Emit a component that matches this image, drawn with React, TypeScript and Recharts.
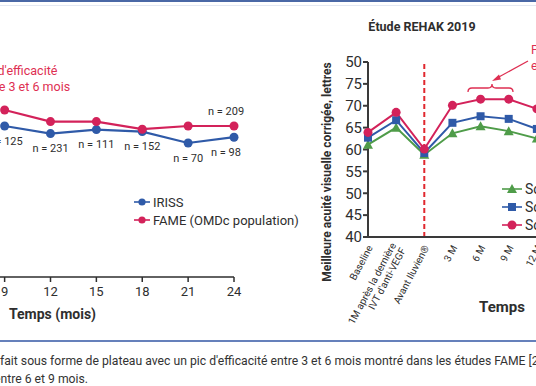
import { LabelList, Legend, Line, LineChart, ReferenceLine, XAxis, YAxis } from 'recharts';

const FONT = 'Roboto, "DejaVu Sans", sans-serif';
const RED = '#d3225a';
const BLUE = '#2f5aa8';
const GREEN = '#4f9c49';
const ANNOT = '#de2f52';
const INK = '#2e2e2e';

// left chart: IRISS vs FAME, months
const MONTHS = [9, 12, 15, 18, 21, 24];
const MONTH_TICKS = [9, 12, 15, 18, 21, 24];
const IRISS = [7.55, 7.17, 7.37, 7.27, 6.7, 6.99];
const FAME = [8.35, 7.77, 7.77, 7.39, 7.55, 7.55];
const IRISS_N = [125, 231, 111, 152, 70, 98];
const FAME_N = [null, null, null, null, null, 209];

// right chart: REHAK 2019
const REHAK_CATS = ['Baseline', "1M après la dernière|IVT d'anti-VEGF", 'Avant Iluvien®', '3 M', '6 M', '9 M', '12 M', '18 M'];
const GROUP_1 = [61.1, 65.0, 58.8, 63.7, 65.3, 64.2, 62.5, 55.5];
const GROUP_2 = [62.7, 66.7, 59.2, 66.1, 67.6, 67.0, 64.7, 56];
const GROUP_3 = [63.9, 68.5, 60.1, 70.1, 71.5, 71.5, 69.3, 60];
const VA_TICKS = [40, 45, 50, 55, 60, 65, 70, 75, 80];
const VA_TICK_LABELS = ['40', '45', '50', '55', '60', '65', '70', '75', '50'];

const leftData = MONTHS.map((month, i) => ({
  month,
  iriss: IRISS[i],
  fame: FAME[i],
  irissN: IRISS_N[i],
  fameN: FAME_N[i]
}));

const rightData = REHAK_CATS.map((cat, i) => ({
  cat,
  g1: GROUP_1[i],
  g2: GROUP_2[i],
  g3: GROUP_3[i]
}));

const SERIES_ORDER = ['iriss', 'fame', 'g1', 'g2', 'g3'];

const nLabel = (dy: number) => (props: any) => {
  const { x, y, value, index } = props;
  if (value == null) return null;
  const dx = index === MONTHS.length - 1 ? -8 : 0;
  return (
    <text key={`n${index}`} x={x + dx} y={y + dy} textAnchor="middle" dominantBaseline="central"
      fontSize={11} fill={INK} fontFamily={FONT}>
      n = {value}
    </text>
  );
};

const squareDot = (p: any) => (
  <rect key={`sq${p.index}`} x={p.cx - 4} y={p.cy - 4} width={8} height={8} fill={BLUE} />
);
const triangleDot = (p: any) => (
  <polygon key={`tr${p.index}`} points={`${p.cx},${p.cy - 5} ${p.cx + 5},${p.cy + 4} ${p.cx - 5},${p.cy + 4}`} fill={GREEN} />
);

const Marker = ({ kind, color, w }: { kind: string; color: string; w: number }) => (
  <svg width={w} height={12} style={{ marginRight: 3, flex: 'none' }}>
    <line x1={0} y1={6} x2={w} y2={6} stroke={color} strokeWidth={1.6} />
    {kind === 'square' && <rect x={w / 2 - 4} y={2} width={8} height={8} fill={color} />}
    {kind === 'triangle' && <polygon points={`${w / 2},1 ${w / 2 + 5},10 ${w / 2 - 5},10`} fill={color} />}
    {kind === 'circle' && <circle cx={w / 2} cy={6} r={w > 18 ? 4.5 : 3.6} fill={color} />}
  </svg>
);

const legendContent = (shapes: Record<string, string>, w: number, fontSize: number) => ({ payload }: any) => (
  <div style={{ fontFamily: FONT, fontSize, color: INK, whiteSpace: 'nowrap' }}>
    {[...(payload || [])]
      .sort((a: any, b: any) => SERIES_ORDER.indexOf(a.dataKey) - SERIES_ORDER.indexOf(b.dataKey))
      .map((e: any) => (
        <div key={e.value} style={{ display: 'flex', alignItems: 'center', height: 18 }}>
          <Marker kind={shapes[e.dataKey]} color={e.color} w={w} />
          <span>{e.value}</span>
        </div>
      ))}
  </div>
);

const RehakTick = ({ x, y, payload }: any) => {
  const lines = String(payload.value).split('|');
  return (
    <g transform={`translate(${x + 2},${y + 1})`}>
      <text transform="rotate(-62)" textAnchor="end" fontSize={10} fill={INK} fontFamily={FONT}>
        {lines.length === 1 ? (
          <tspan x={0} dy="0.35em">{lines[0]}</tspan>
        ) : (
          lines.map((l, i) => (
            <tspan key={l} x={0} dy={i === 0 ? '-0.2em' : '1.1em'}>{l}</tspan>
          ))
        )}
      </text>
    </g>
  );
};

export default function App() {
  return (
    <div style={{ position: 'fixed', left: 0, top: 0, width: 536, height: 386, overflow: 'hidden', background: '#fff', fontFamily: FONT }}>
      <div style={{ position: 'absolute', left: 0, top: 0, width: 536, height: 2, background: '#4a68a6' }} />
      <div style={{ position: 'absolute', left: 0, top: 5, width: 536, height: 1, background: '#e4e8f2' }} />

      {/* left chart */}
      <div style={{ position: 'absolute', left: -153, top: 40 }}>
        <LineChart width={407} height={300} data={leftData} margin={{ top: 37, right: 20, bottom: 33, left: 20 }}>
          <XAxis dataKey="month" type="number" domain={[0, 24]} ticks={MONTH_TICKS} interval={0} height={30}
            tickSize={5} tickMargin={5} stroke={INK} strokeWidth={1.5}
            tick={{ fontSize: 13, fill: INK, fontFamily: FONT }} />
          <YAxis hide domain={[0, 10]} />
          <Legend layout="vertical" align="center" verticalAlign="middle"
            wrapperStyle={{ left: 287, top: 153, width: 200 }}
            content={legendContent({ iriss: 'circle', fame: 'circle' }, 16, 13)} />
          <Line dataKey="iriss" name="IRISS" stroke={BLUE} strokeWidth={2.2} isAnimationActive={false}
            dot={{ r: 4.5, fill: BLUE, stroke: BLUE, strokeWidth: 0 }}>
            <LabelList dataKey="irissN" content={nLabel(15)} />
          </Line>
          <Line dataKey="fame" name="FAME (OMDc population)" stroke={RED} strokeWidth={2.2} isAnimationActive={false}
            dot={{ r: 4.5, fill: RED, stroke: RED, strokeWidth: 0 }}>
            <LabelList dataKey="fameN" content={nLabel(-15)} />
          </Line>
        </LineChart>
      </div>
      <div style={{ position: 'absolute', left: -23, top: 63, color: ANNOT, fontSize: 12.5, lineHeight: '16px', whiteSpace: 'nowrap' }}>
        Pic d'efficacité<br />entre 3 et 6 mois
      </div>
      <div style={{ position: 'absolute', left: 9, top: 306, fontSize: 14, fontWeight: 700, color: INK }}>Temps (mois)</div>

      {/* right chart */}
      <div style={{ position: 'absolute', left: 363, top: 19, width: 118, textAlign: 'center', fontSize: 12.5, fontWeight: 700, color: INK, whiteSpace: 'nowrap' }}>
        Étude REHAK 2019
      </div>
      <div style={{ position: 'absolute', left: 327, top: 172, transform: 'translate(-50%, -50%) rotate(-90deg)', fontSize: 12, fontWeight: 700, color: INK, whiteSpace: 'nowrap' }}>
        Meilleure acuité visuelle corrigée, lettres
      </div>
      <div style={{ position: 'absolute', left: 290, top: 0 }}>
        <LineChart width={300} height={330} data={rightData} margin={{ top: 62, right: 25, bottom: 13, left: 18 }}>
          <XAxis dataKey="cat" interval={0} height={80} tickLine={false} tickSize={6} tickMargin={2}
            stroke="#3a3a3a" strokeWidth={2} tick={<RehakTick />} />
          <YAxis domain={[40, 80]} ticks={VA_TICKS} interval={0} width={60} tickSize={5} tickMargin={1}
            stroke="#3a3a3a" strokeWidth={2}
            tickFormatter={(v: number) => VA_TICK_LABELS[VA_TICKS.indexOf(v)]}
            tick={{ fontSize: 15, fill: INK, fontFamily: FONT }} />
          <ReferenceLine x="Avant Iluvien®" stroke="#e0282e" strokeWidth={2} strokeDasharray="5 3" />
          <Legend layout="vertical" align="center" verticalAlign="middle"
            wrapperStyle={{ left: 212, top: 180, width: 200 }}
            content={legendContent({ g1: 'triangle', g2: 'square', g3: 'circle' }, 20, 14)} />
          <Line dataKey="g1" name="Sous-groupe 1" stroke={GREEN} strokeWidth={2} isAnimationActive={false} dot={triangleDot} />
          <Line dataKey="g2" name="Sous-groupe 2" stroke={BLUE} strokeWidth={2} isAnimationActive={false} dot={squareDot} />
          <Line dataKey="g3" name="Sous-groupe 3" stroke={RED} strokeWidth={2} isAnimationActive={false}
            dot={{ r: 4.5, fill: RED, stroke: RED, strokeWidth: 0 }} />
        </LineChart>
      </div>
      <div style={{ position: 'absolute', left: 457, top: 298, width: 90, textAlign: 'center', fontSize: 15, fontWeight: 700, color: INK }}>Temps</div>

      <svg width={536} height={386} style={{ position: 'absolute', left: 0, top: 0, pointerEvents: 'none' }}>
        <path d="M468 92 Q468 88 472 88 L488 88 Q492 88 492 84 Q492 88 496 88 L509 88 Q513 88 513 92"
          fill="none" stroke={ANNOT} strokeWidth={1.3} />
        <line x1={528} y1={61} x2={497} y2={78} stroke={ANNOT} strokeWidth={1.3} />
        <polygon points="492,81 499,74.5 501,79.5" fill={ANNOT} />
      </svg>
      <div style={{ position: 'absolute', left: 531, top: 42, color: ANNOT, fontSize: 12.5, lineHeight: '16px', whiteSpace: 'nowrap' }}>
        Pic d'efficacité<br />entre 6 et 9 mois
      </div>

      <div style={{ position: 'absolute', left: 0, top: 340, width: 536, height: 2, background: '#6580bb' }} />
      <div style={{ position: 'absolute', left: 0, top: 352, fontSize: 12.2, lineHeight: '18px', color: '#333', whiteSpace: 'nowrap' }}>
        fait sous forme de plateau avec un pic d'efficacité entre 3 et 6 mois montré dans les études FAME [2]
      </div>
      <div style={{ position: 'absolute', left: -6, top: 370, fontSize: 12.2, lineHeight: '18px', color: '#333', whiteSpace: 'nowrap' }}>
        entre 6 et 9 mois.
      </div>
    </div>
  );
}
